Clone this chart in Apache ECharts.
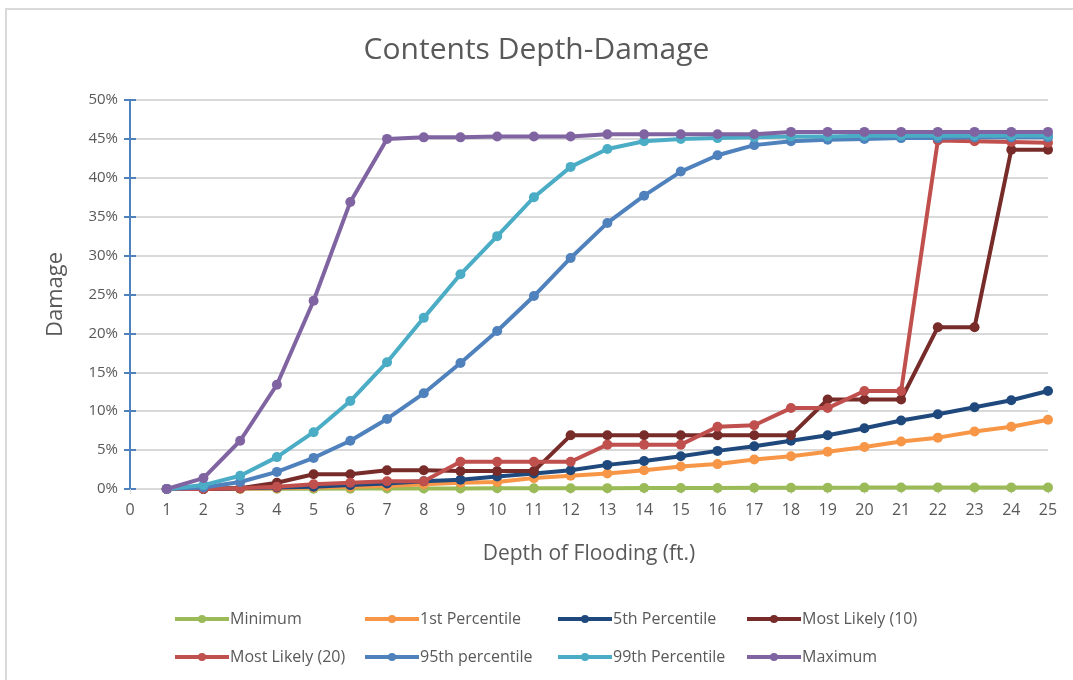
<!DOCTYPE html>
<html>
<head>
<meta charset="utf-8">
<script src="https://cdn.jsdelivr.net/npm/echarts@6/dist/echarts.min.js"></script>
<style>
html, body { margin: 0; padding: 0; background: #fff; }
#frame { position: absolute; left: 5px; top: 8px; width: 1100px; height: 700px; border-left: 2px solid #d9d9d9; border-top: 2px solid #d9d9d9; }
#chart { position: absolute; left: 0; top: 0; width: 1073px; height: 680px; }
</style>
</head>
<body>
<div id="frame"></div>
<div id="chart"></div>
<script>
var depths = [1, 2, 3, 4, 5, 6, 7, 8, 9, 10, 11, 12, 13, 14, 15, 16, 17, 18, 19, 20, 21, 22, 23, 24, 25]
var minimum = [0, 0, 0.02, 0.03, 0.04, 0.05, 0.06, 0.07, 0.08, 0.09, 0.1, 0.1, 0.11, 0.12, 0.13, 0.14, 0.15, 0.16, 0.17, 0.18, 0.2, 0.2, 0.2, 0.2, 0.2]
var pct1 = [0, 0, 0.05, 0.1, 0.2, 0.3, 0.4, 0.6, 0.8, 0.9, 1.4, 1.7, 2.0, 2.4, 2.9, 3.2, 3.8, 4.2, 4.8, 5.4, 6.1, 6.6, 7.4, 8.0, 8.9]
var pct5 = [0, 0, 0.1, 0.2, 0.3, 0.5, 0.7, 1.0, 1.2, 1.6, 2.0, 2.4, 3.1, 3.6, 4.2, 4.9, 5.5, 6.2, 6.9, 7.8, 8.8, 9.6, 10.5, 11.4, 12.6]
var likely10 = [0, 0, 0.1, 0.8, 1.9, 1.9, 2.4, 2.4, 2.3, 2.3, 2.3, 6.9, 6.9, 6.9, 6.9, 6.9, 6.9, 6.9, 11.5, 11.5, 11.5, 20.8, 20.8, 43.6, 43.6]
var likely20 = [0, 0, 0.1, 0.3, 0.6, 0.8, 1.0, 1.0, 3.5, 3.5, 3.5, 3.5, 5.7, 5.7, 5.7, 8.0, 8.2, 10.4, 10.4, 12.6, 12.6, 44.8, 44.7, 44.6, 44.5]
var pct95 = [0, 0.2, 0.9, 2.2, 4.0, 6.2, 9.0, 12.3, 16.2, 20.3, 24.8, 29.7, 34.2, 37.7, 40.8, 42.9, 44.2, 44.7, 44.9, 45.0, 45.1, 45.1, 45.2, 45.2, 45.2]
var pct99 = [0, 0.5, 1.7, 4.1, 7.3, 11.3, 16.3, 22.0, 27.6, 32.5, 37.5, 41.4, 43.7, 44.7, 45.0, 45.1, 45.2, 45.3, 45.3, 45.4, 45.4, 45.4, 45.4, 45.4, 45.4]
var maximum = [0, 1.4, 6.2, 13.4, 24.2, 36.9, 45.0, 45.2, 45.2, 45.3, 45.3, 45.3, 45.6, 45.6, 45.6, 45.6, 45.6, 45.9, 45.9, 45.9, 45.9, 45.9, 45.9, 45.9, 45.9]

var seriesNames = ['Minimum', '1st Percentile', '5th Percentile', 'Most Likely (10)', 'Most Likely (20)', '95th percentile', '99th Percentile', 'Maximum']
var seriesData = [minimum, pct1, pct5, likely10, likely20, pct95, pct99, maximum]
var seriesColors = ['#9bbb59', '#f79646', '#1f497d', '#772c2a', '#c0504d', '#4f81bd', '#4bacc6', '#8064a2']

var depthDamage = {
    init: function () {
        var that = this
        that.draw()
    },
    draw: function () {
        var myChart = echarts.init(document.getElementById('chart'), null, {renderer: 'canvas'});
        var font = '"Open Sans", "Noto Sans", sans-serif'
        var series = seriesNames.map(function (name, i) {
            return {
                name: name,
                type: 'line',
                data: depths.map(function (d, j) { return [d, seriesData[i][j]] }),
                symbol: 'circle',
                symbolSize: 10,
                lineStyle: {width: 4, color: seriesColors[i]},
                itemStyle: {color: seriesColors[i]},
                z: 2 + i
            }
        })
        // legend columns: each holds one item of each row
        var legendLeft = [168, 358, 551, 740]
        var legends = legendLeft.map(function (x, c) {
            return {
                orient: 'vertical',
                left: x,
                top: 606,
                itemGap: 22,
                itemWidth: 54,
                itemHeight: 10,
                lineStyle: {width: 4},
                textStyle: {color: '#595959', fontSize: 16, fontFamily: font, padding: [0, 0, 0, -4]},
                data: [seriesNames[c], seriesNames[c + 4]]
            }
        })
        var option = {
            animation: false,
            title: {
                text: 'Contents Depth-Damage',
                left: 'center',
                top: 30,
                textStyle: {color: '#595959', fontSize: 30, fontWeight: 'normal', fontFamily: font}
            },
            legend: legends,
            grid: {left: 130, right: 25, top: 100, bottom: 191},
            xAxis: {
                type: 'value',
                min: 0,
                max: 25,
                interval: 1,
                name: 'Depth of Flooding (ft.)',
                nameLocation: 'middle',
                nameGap: 55,
                nameTextStyle: {color: '#595959', fontSize: 21, fontFamily: font},
                axisLine: {show: false},
                axisTick: {show: true, length: 5, lineStyle: {color: '#d9d9d9'}},
                axisLabel: {color: '#595959', fontSize: 16, margin: 13, fontFamily: font},
                splitLine: {show: false}
            },
            yAxis: [{
                type: 'value',
                min: 0,
                max: 50,
                interval: 5,
                name: 'Damage',
                nameLocation: 'middle',
                nameGap: 63,
                nameTextStyle: {color: '#595959', fontSize: 22, fontFamily: font},
                axisLine: {show: true, lineStyle: {color: '#4f81bd', width: 2}},
                axisTick: {show: true, length: 6, lineStyle: {color: '#4f81bd', width: 2}},
                axisLabel: {color: '#595959', fontSize: 15, margin: 12, fontFamily: font, formatter: '{value}%'},
                splitLine: {show: true, lineStyle: {color: '#d9d9d9', width: 2}}
            }, {
                type: 'value',
                min: 0,
                max: 50,
                interval: 5,
                position: 'left',
                axisLine: {show: false},
                axisTick: {show: true, inside: true, length: 6, lineStyle: {color: '#4f81bd', width: 2}},
                axisLabel: {show: false},
                splitLine: {show: false}
            }],
            series: series
        };
        myChart.setOption(option);
    }
}
depthDamage.init()
</script>
</body>
</html>
